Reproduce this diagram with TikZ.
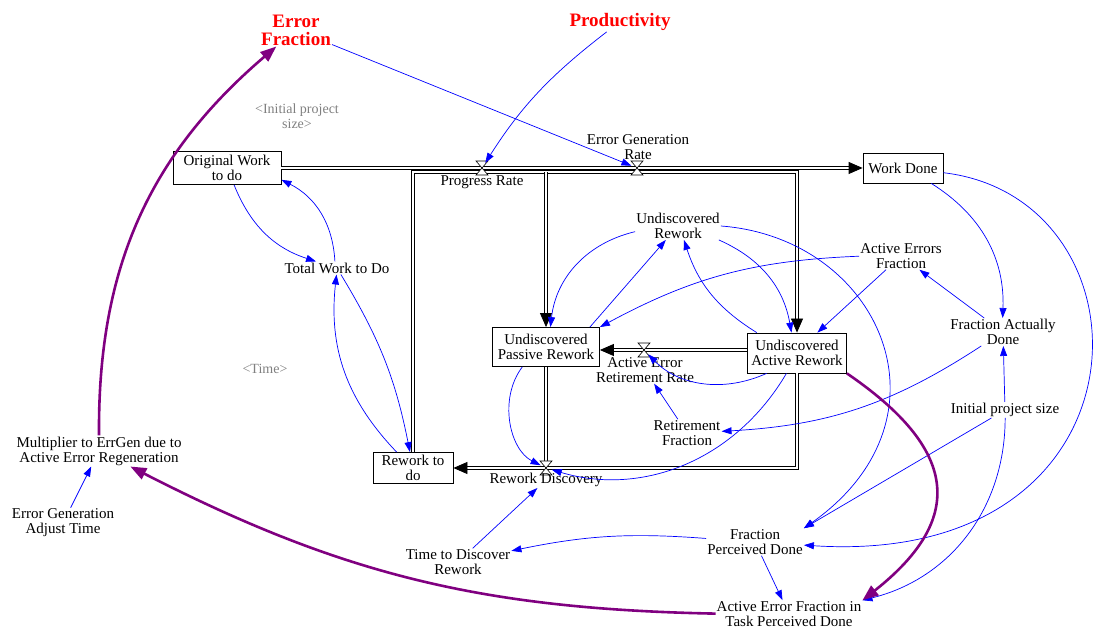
\documentclass[tikz,border=0pt]{standalone}
\usepackage{fontspec}
\setmainfont{Liberation Serif}
\usetikzlibrary{arrows.meta}

\begin{document}
\begin{tikzpicture}[x=1pt,y=1pt,
  varlabel/.style={align=center, inner sep=1pt, font=\fontsize{15}{15}\selectfont},
  stockbox/.style={varlabel, draw, line width=0.8pt, fill=white, minimum height=33pt},
  shadowvar/.style={varlabel, text=gray, font=\fontsize{14}{15}\selectfont},
  redvar/.style={varlabel, text=red, font=\bfseries\fontsize{19}{18}\selectfont},
  pipe/.style={double=white, double distance=2pt, line width=0.8pt},
  pipeflow/.style={pipe, -{Triangle[length=14pt,width=12pt]}},
  valve/.style={draw, fill=white, line width=0.6pt},
  infolink/.style={blue, line width=0.7pt, -{Triangle[length=10pt,width=7pt]}},
  errlink/.style={violet, line width=2.6pt, -{Triangle[length=16pt,width=12pt]}}]
  \useasboundingbox (0,0) rectangle (1093,628);

  % stocks
  \node[stockbox, minimum width=108pt] (owtd) at (227,460) {Original Work\\to do};
  \node[stockbox, minimum width=80pt, minimum height=30pt] (wd) at (903,460) {Work Done};
  \node[stockbox, minimum width=107pt, minimum height=39pt] (upr) at (546,281) {Undiscovered\\Passive Rework};
  \node[stockbox, minimum width=99pt, minimum height=40pt] (uar) at (797,275) {Undiscovered\\Active Rework};
  \node[stockbox, minimum width=80pt, minimum height=31pt] (rwtd) at (413,160) {Rework to\\do};

  % valves and pipe corners
  \coordinate (prv) at (482,460);
  \coordinate (egv) at (637,460);
  \coordinate (aerv) at (644,278);
  \coordinate (rdv) at (546,160);
  \coordinate (jua) at (797,456);
  \coordinate (jpr) at (546,456);

  % flows
  \draw[pipeflow] (owtd.east) -- (wd.west);
  \draw[pipeflow] (rwtd.north) |- (jua) -- (uar.north);
  \draw[pipeflow] (jpr) -- (upr.north);
  \draw[pipeflow] (uar.west |- aerv) -- (upr.east |- aerv);
  \draw[pipe] (upr.south) -- (rdv);
  \draw[pipeflow] (uar.south) |- (rwtd);
  \draw[valve] (prv) ++(-6,7) -- ++(12,0) -- ++(-12,-14) -- ++(12,0) -- cycle;
  \draw[valve] (egv) ++(-6,7) -- ++(12,0) -- ++(-12,-14) -- ++(12,0) -- cycle;
  \draw[valve] (aerv) ++(-6,7) -- ++(12,0) -- ++(-12,-14) -- ++(12,0) -- cycle;
  \draw[valve] (rdv) ++(-6,7) -- ++(12,0) -- ++(-12,-14) -- ++(12,0) -- cycle;

  % rate labels
  \node[varlabel] (prl) at (482,446) {Progress Rate};
  \node[varlabel] (egl) at (638,481) {Error Generation\\Rate};
  \node[varlabel] (aerl) at (645,258) {Active Error\\Retirement Rate};
  \node[varlabel] (rdl) at (546,148) {Rework Discovery};

  % auxiliaries
  \node[redvar] (ef) at (296,598) {Error\\Fraction};
  \node[redvar] (prod) at (620,606) {Productivity};
  \node[shadowvar] (ipsg) at (297,512) {\textless Initial project\\size\textgreater};
  \node[shadowvar] (time) at (265,259) {\textless Time\textgreater};
  \node[varlabel] (ur) at (678,402) {Undiscovered\\Rework};
  \node[varlabel] (aef) at (901,372) {Active Errors\\Fraction};
  \node[varlabel] (twd) at (337,360) {Total Work to Do};
  \node[varlabel] (fad) at (1003,296) {Fraction Actually\\Done};
  \node[varlabel] (rf) at (687,195) {Retirement\\Fraction};
  \node[varlabel] (ips) at (1005,218) {Initial project size};
  \node[varlabel] (mult) at (99,177) {Multiplier to ErrGen due to\\Active Error Regeneration};
  \node[varlabel] (egat) at (63,105) {Error Generation\\Adjust Time};
  \node[varlabel] (tdr) at (458,66) {Time to Discover\\Rework};
  \node[varlabel] (fpd) at (755,86) {Fraction\\Perceived Done};
  \node[varlabel] (aeftpd) at (789,14) {Active Error Fraction in\\Task Perceived Done};

  % information links
  \draw[infolink, shorten >=6pt] (ef) -- (egv);
  \draw[infolink, shorten >=6pt] (prod) to[bend right=10] (prv);
  \draw[infolink] (owtd) to[bend right=25] (twd);
  \draw[infolink] (twd) to[bend right=30] (owtd);
  \draw[infolink] (twd) to[bend left=10] (rwtd);
  \draw[infolink] (rwtd) to[bend left=25] (twd);
  \draw[infolink] (ur) to[bend right=35] (upr);
  \draw[infolink] ([xshift=-10pt]upr.north east) -- (ur);
  \draw[infolink] (uar) to[bend left=20] (ur);
  \draw[infolink] (ur) to[bend left=28] (uar);
  \draw[infolink] (ur.east) .. controls (880,390) and (960,210) .. (fpd.north east);
  \draw[infolink] (aef) to[bend right=13] (upr.north east);
  \draw[infolink] (aef) -- (uar.45);
  \draw[infolink] (fad) -- (aef);
  \draw[infolink] (wd) to[bend left=30] (fad);
  \draw[infolink] (wd) .. controls (1160,430) and (1160,60) .. (fpd);
  \draw[infolink] (fad) to[bend left=15] (rf);
  \draw[infolink] (ips) -- (fad);
  \draw[infolink] (ips) to[bend left=38] (aeftpd.north east);
  \draw[infolink] (ips) -- (fpd.north east);
  \draw[infolink] (fpd) to[bend right=8] (tdr);
  \draw[infolink] (tdr) -- (rdl);
  \draw[infolink] (fpd) -- (aeftpd);
  \draw[infolink] (egat) -- (mult);
  \draw[infolink, shorten >=6pt] (upr) to[bend right=50] (rdv);
  \draw[infolink, shorten >=6pt] (uar) to[bend left=38] (rdv);
  \draw[infolink, shorten >=6pt] (uar) to[bend left=35] (aerv);
  \draw[infolink] (rf) -- (aerl);

  % error feedback
  \draw[errlink] (mult) to[bend left=25] (ef);
  \draw[errlink] (aeftpd) to[bend left=13] (mult);
  \draw[errlink] (uar.south east) .. controls (956,180) and (968,111) .. (aeftpd.north east);
\end{tikzpicture}
\end{document}
